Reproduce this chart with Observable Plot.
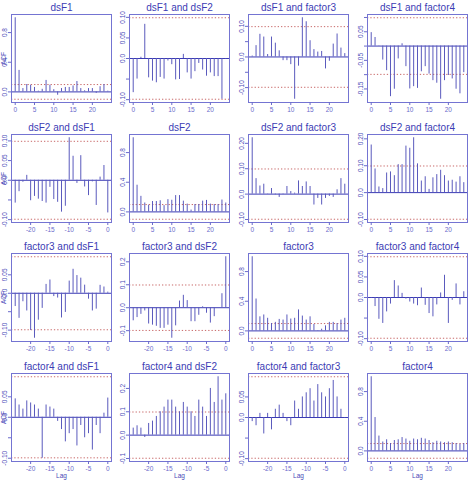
<!DOCTYPE html>
<html>
<head>
<meta charset="utf-8">
<script src="https://cdn.jsdelivr.net/npm/d3@7"></script>
<script src="https://cdn.jsdelivr.net/npm/@observablehq/plot@0.6"></script>
<style>
  body { margin: 0; background: #fff; }
  #grid { position: relative; width: 470px; height: 481px; overflow: hidden; background: #fff; }
  #grid svg { position: absolute; }
</style>
</head>
<body>
<div id="grid"></div>
<script>
// Auto- and cross-correlations of four series, lags 0..24 (upper/diagonal)
// and -24..0 (lower triangle).
const series = ["dsF1", "dsF2", "factor3", "factor4"];
const ci = 0.099; // approximate 95% bound, 1.96/sqrt(n)

const acf_dsF1 = [1.0, 0.29, 0.045, 0.10, 0.09, 0.06, 0.01, 0.035, 0.155, 0.09, 0.03, -0.045, 0.045, 0.06, 0.06, 0.08, 0.14, 0.045, 0.015, 0.045, 0.045, -0.02, 0.07, 0.10, 0.01];
const ccf_dsF1_dsF2 = [-0.083, -0.05, 0.003, 0.083, -0.047, -0.055, -0.059, -0.046, -0.05, -0.006, -0.015, -0.052, -0.051, 0.01, -0.035, -0.05, -0.032, -0.012, -0.028, -0.043, -0.035, -0.044, -0.044, -0.099, -0.002];
const ccf_dsF1_factor3 = [0.003, 0.037, 0.074, 0.065, 0.008, 0.065, 0.045, 0.02, -0.012, -0.012, -0.025, -0.138, -0.03, 0.128, 0.115, 0.053, 0.024, 0.016, 0.018, -0.039, -0.014, 0.042, 0.075, 0.029, 0.011];
const ccf_dsF1_factor4 = [0.047, 0.03, -0.001, -0.049, -0.086, -0.177, -0.151, -0.045, 0.008, -0.072, -0.15, -0.142, -0.148, -0.09, -0.072, -0.098, -0.121, -0.13, -0.186, -0.121, -0.103, -0.115, -0.151, -0.167, -0.093];

const ccf_dsF2_dsF1 = [-0.058, -0.029, -0.005, 0.0125, -0.052, -0.041, -0.048, -0.054, -0.058, -0.018, -0.049, -0.056, -0.081, -0.066, 0.108, 0.061, -0.008, 0.0625, -0.017, -0.039, -0.004, -0.064, 0.008, 0.0375, -0.083];
const acf_dsF2 = [1.0, 0.36, 0.21, 0.12, 0.09, 0.14, 0.14, 0.15, 0.085, 0.165, 0.157, 0.22, 0.22, 0.145, 0.105, 0.025, 0.1, 0.1, 0.145, 0.155, 0.105, 0.1, 0.1, 0.16, 0.12];
const ccf_dsF2_factor3 = [0.222, 0.061, 0.032, 0.039, 0.001, 0.022, -0.003, -0.013, -0.002, 0.03, 0.01, 0.004, 0.052, 0.03, 0.048, 0.03, -0.043, -0.017, -0.043, -0.017, -0.009, -0.013, 0.017, 0.061, 0.039];
const ccf_dsF2_factor4 = [0.177, 0.088, 0.021, 0.015, 0.073, 0.077, 0.063, 0.104, 0.104, 0.173, 0.165, 0.204, 0.107, 0.043, 0.059, 0.012, 0.055, 0.067, 0.083, 0.063, 0.043, 0.046, 0.039, 0.059, 0.037];

const ccf_factor3_dsF1 = [-0.036, -0.068, -0.023, -0.048, -0.101, -0.122, -0.073, -0.041, 0.024, 0.036, -0.009, -0.013, -0.067, -0.052, 0.033, 0.065, 0.048, 0.041, 0.022, -0.016, -0.048, -0.043, 0.0215, 0.017, 0.003];
const ccf_factor3_dsF2 = [-0.057, -0.043, -0.029, -0.014, -0.071, -0.076, -0.081, -0.09, -0.09, -0.076, -0.133, -0.079, 0.029, 0.054, 0.031, -0.061, -0.061, -0.033, 0.004, -0.024, -0.067, -0.039, 0.0, 0.061, 0.222];
const acf_factor3 = [1.0, 0.43, 0.19, 0.215, 0.17, 0.1, 0.115, 0.155, 0.146, 0.215, 0.16, 0.17, 0.283, 0.2, 0.146, 0.19, 0.087, 0.005, 0.023, 0.068, 0.115, 0.115, 0.1, 0.146, 0.17];
const ccf_factor3_factor4 = [-0.002, -0.022, -0.053, -0.063, -0.035, -0.016, 0.041, 0.028, 0.01, -0.004, -0.011, -0.016, -0.02, 0.023, -0.019, -0.039, -0.047, -0.018, 0.011, 0.054, -0.063, -0.007, 0.033, -0.018, 0.014];

const ccf_factor4_dsF1 = [0.045, 0.03, 0.02, 0.04, 0.035, 0.03, 0.02, -0.1, 0.03, 0.025, 0.02, -0.01, -0.03, -0.06, -0.04, -0.03, -0.07, -0.02, -0.05, -0.04, -0.08, -0.02, -0.04, 0.01, 0.047];
const ccf_factor4_dsF2 = [0.03, 0.04, 0.03, -0.01, 0.05, 0.06, 0.08, 0.1, 0.12, 0.15, 0.15, 0.12, 0.1, 0.14, 0.12, 0.1, 0.08, 0.15, 0.12, 0.08, 0.2, 0.14, 0.25, 0.15, 0.177];
const ccf_factor4_factor3 = [-0.01, -0.02, 0.01, -0.04, 0.01, -0.03, 0.02, 0.03, 0.01, -0.01, -0.02, 0.04, 0.02, 0.05, 0.06, 0.07, 0.04, 0.08, 0.06, 0.05, 0.07, 0.09, 0.05, 0.02, -0.002];
const acf_factor4 = [1.0, 0.45, 0.2, 0.12, 0.15, 0.1, 0.14, 0.15, 0.18, 0.16, 0.13, 0.16, 0.15, 0.17, 0.16, 0.14, 0.11, 0.13, 0.12, 0.11, 0.12, 0.11, 0.1, 0.09, 0.1];

const lagsPos = d3.range(0, 25);
const lagsNeg = d3.range(-24, 1);
const xTicksPos = [0, 5, 10, 15, 20];
const xTicksNeg = [-20, -15, -10, -5, 0];

// y ticks and the labels printed beside them (crowded labels left blank)
const yAcf = [0, 0.4, 0.8], yAcfLab = ["0.0", "0.4", "0.8"];
const y05 = [-0.10, -0.05, 0, 0.05, 0.10], y05Lab = ["-0.10", "", "0.0", "0.05", "0.10"];
const y10 = [-0.10, -0.05, 0, 0.05, 0.10], y10Lab = ["-0.10", "", "0.0", "", "0.10"];
const y14 = [-0.15, -0.10, -0.05, 0, 0.05, 0.10], y14Lab = ["-0.15", "", "-0.05", "", "0.05", ""];
const y20 = [-0.10, 0, 0.10, 0.20], y20Lab = ["-0.10", "0.0", "0.10", "0.20"];
const y31 = [-0.10, -0.05, 0, 0.05], y31Lab = ["-0.10", "", "0.0", "0.05"];
const y2 = [-0.1, 0, 0.1, 0.2], y2Lab = ["-0.1", "0.0", "0.1", "0.2"];

const cells = [
  [acf_dsF1, yAcf, yAcfLab], [ccf_dsF1_dsF2, y05, y05Lab], [ccf_dsF1_factor3, y10, y10Lab], [ccf_dsF1_factor4, y14, y14Lab],
  [ccf_dsF2_dsF1, y05, y05Lab], [acf_dsF2, yAcf, yAcfLab], [ccf_dsF2_factor3, y20, y20Lab], [ccf_dsF2_factor4, y20, y20Lab],
  [ccf_factor3_dsF1, y31, y31Lab], [ccf_factor3_dsF2, y2, y2Lab], [acf_factor3, yAcf, yAcfLab], [ccf_factor3_factor4, y05, y05Lab],
  [ccf_factor4_dsF1, y31, y31Lab], [ccf_factor4_dsF2, y2, y2Lab], [ccf_factor4_factor3, y31, y31Lab], [acf_factor4, yAcf, yAcfLab]
];

const frameColor = "#7474d2";
const axisColor = "#6a6acb";
const textColor = "#4a4ab8";
const titleColor = "#3c3cb4";
const barColor = "#5a5abd";
const zeroColor = "#3a3ab4";
const ciColor = "#c86868";
const font = "'Liberation Sans', Arial, Helvetica, sans-serif";

// panel frame placement inside the 470x481 page
const frameLeft = [10.5, 129.3, 248.1, 366.9];
const frameTop = [14, 134, 253, 373];
const frameW = 100, frameH = 88;
const mL = 12, mR = 3, mT = 14, mB = 20;

const grid = document.getElementById("grid");

cells.forEach(([values, yT, yL], k) => {
  const r = Math.floor(k / 4), c = k % 4;
  const lower = r > c;
  const lags = lower ? lagsNeg : lagsPos;
  const xT = lower ? xTicksNeg : xTicksPos;
  const title = r === c ? series[r] : `${series[r]} and ${series[c]}`;
  const data = values.map((v, i) => ({lag: lags[i], v}));

  const lo = Math.min(-ci, d3.min(values)), hi = Math.max(ci, d3.max(values));
  const yDom = [lo - 0.04 * (hi - lo), hi + 0.04 * (hi - lo)];
  const xlo = d3.min(lags), xhi = d3.max(lags);
  const xDom = [xlo - 0.04 * (xhi - xlo), xhi + 0.04 * (xhi - xlo)];

  const marks = [
    Plot.ruleY([-ci, ci], {stroke: ciColor, strokeDasharray: "1.3,2", strokeWidth: 1}),
    Plot.ruleY([0], {stroke: zeroColor, strokeWidth: 1}),
    Plot.ruleX(data, {x: "lag", y1: 0, y2: "v", stroke: barColor, strokeWidth: 1}),
    Plot.frame({stroke: frameColor}),
    Plot.axisX({ticks: xT, tickSize: 3, tickPadding: 1.5, fontSize: 6.5, label: null,
      color: axisColor, tickFormat: d => String(d)}),
    Plot.axisY({ticks: yT, tickSize: 3, tickFormat: () => "", label: null, color: axisColor}),
    Plot.text(yT, {x: xDom[0], y: d => d, text: (d, i) => yL[i], rotate: -90, dx: -6.5,
      fontSize: 6.5, fill: textColor, textAnchor: "middle", lineAnchor: "middle"}),
    Plot.text([title], {frameAnchor: "top", dy: -7, fontSize: 10, fill: titleColor,
      textAnchor: "middle", lineAnchor: "middle"})
  ];
  if (c === 0) marks.push(Plot.text(["ACF"], {frameAnchor: "left", dx: -8, rotate: -90, fontSize: 6.5,
    fill: textColor, textAnchor: "middle", lineAnchor: "middle"}));
  if (r === 3) marks.push(Plot.text(["Lag"], {frameAnchor: "bottom", dy: 14, fontSize: 6.5,
    fill: textColor, textAnchor: "middle", lineAnchor: "middle"}));

  const svg = Plot.plot({
    width: mL + frameW + mR,
    height: mT + frameH + mB,
    marginLeft: mL, marginRight: mR, marginTop: mT, marginBottom: mB,
    x: {domain: xDom},
    y: {domain: yDom},
    style: {fontFamily: font, overflow: "visible", background: "transparent"},
    marks
  });
  svg.style.left = (frameLeft[c] - mL) + "px";
  svg.style.top = (frameTop[r] - mT) + "px";
  grid.appendChild(svg);
});
</script>
</body>
</html>
